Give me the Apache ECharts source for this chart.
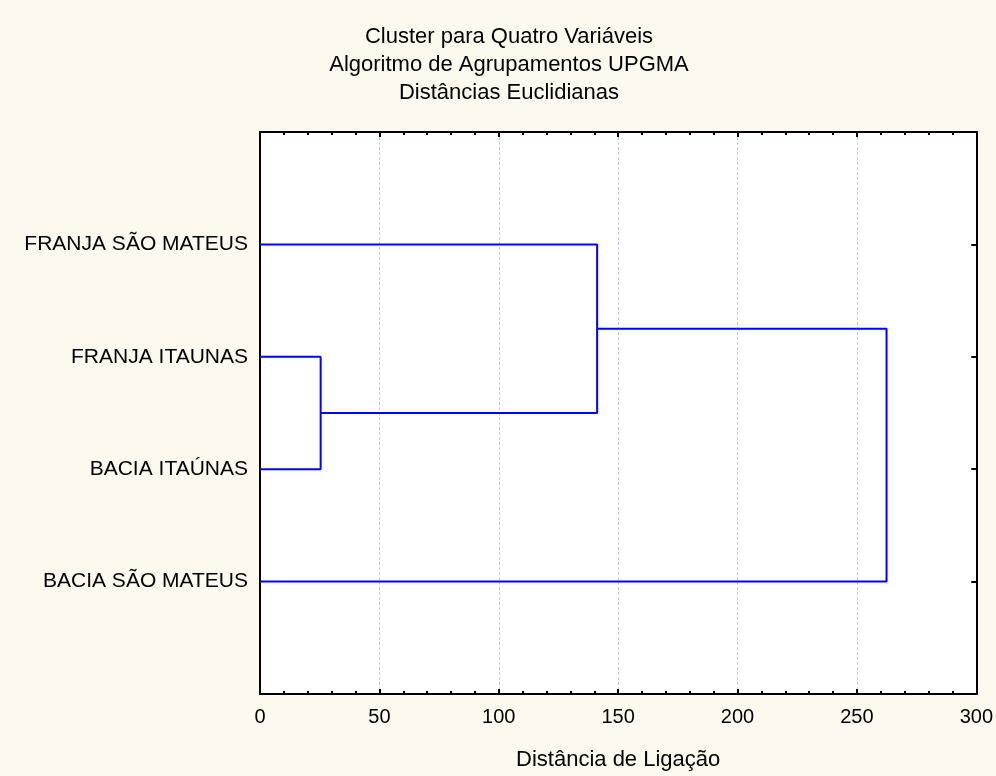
<!DOCTYPE html>
<html>
<head>
<meta charset="utf-8">
<script src="https://cdn.jsdelivr.net/npm/echarts@6/dist/echarts.min.js"></script>
<style>html,body{margin:0;padding:0;background:#fdf9ee;}#c{width:996px;height:776px;}</style>
</head>
<body>
<div id="c"></div>
<script>
// Leaves from top to bottom
var leafLabels = ['FRANJA SÃO MATEUS', 'FRANJA ITAUNAS', 'BACIA ITAÚNAS', 'BACIA SÃO MATEUS'];
// Linkage distances of the three merges (UPGMA)
var mergeDistances = [25.4, 141.2, 262.4];
var xTicks = [0, 50, 100, 150, 200, 250, 300];
var titleLines = ['Cluster para Quatro Variáveis', 'Algoritmo de Agrupamentos UPGMA', 'Distâncias Euclidianas'];
var xAxisName = 'Distância de Ligação';

// y position of leaves (bottom = 1)
var nLeaves = leafLabels.length;
function leafY(i) { return nLeaves - i; }
var yFSM = leafY(0), yFI = leafY(1), yBI = leafY(2), yBSM = leafY(3);
var d1 = mergeDistances[0], d2 = mergeDistances[1], d3 = mergeDistances[2];
var node1Y = (yFI + yBI) / 2;
var node2Y = (yFSM + node1Y) / 2;
var links = [
  [[0, yFI], [d1, yFI], [d1, yBI], [0, yBI]],
  [[0, yFSM], [d2, yFSM], [d2, node1Y], [d1, node1Y]],
  [[d2, node2Y], [d3, node2Y], [d3, yBSM], [0, yBSM]]
];

var chart = echarts.init(document.getElementById('c'));
var font = 'Liberation Sans, Arial, sans-serif';
function xAxisBase() {
  return {
    type: 'value', min: 0, max: xTicks[xTicks.length - 1], interval: xTicks[1] - xTicks[0],
    axisLine: { show: true, onZero: false, lineStyle: { color: '#000', width: 2 } },
    axisTick: { show: true, inside: true, length: 5, lineStyle: { color: '#000', width: 2 } },
    minorTick: { show: true, splitNumber: 5, length: 3, lineStyle: { color: '#000', width: 2 } }
  };
}
chart.setOption({
  backgroundColor: '#fdf9ee',
  animation: false,
  title: {
    text: titleLines.join('\n'),
    left: 504, top: 18, textAlign: 'center',
    textStyle: { fontFamily: font, fontSize: 22, fontWeight: 'normal', color: '#000', lineHeight: 28 }
  },
  grid: { left: 260, right: 19, top: 132, bottom: 82, show: true, backgroundColor: '#fff', borderWidth: 0 },
  xAxis: [
    Object.assign(xAxisBase(), {
      position: 'bottom',
      name: xAxisName, nameLocation: 'middle', nameGap: 55,
      nameTextStyle: { fontFamily: font, fontSize: 22, color: '#000' },
      axisLabel: { fontFamily: font, fontSize: 20, color: '#000', margin: 13 },
      splitLine: { show: true, lineStyle: { color: '#cccccc', type: [3, 2], width: 1 } }
    }),
    Object.assign(xAxisBase(), {
      position: 'top',
      axisLabel: { show: false },
      splitLine: { show: false }
    })
  ],
  yAxis: [
    {
      type: 'value', min: 0, max: nLeaves + 1, interval: 1, position: 'left',
      axisLine: { show: true, onZero: false, lineStyle: { color: '#000', width: 2 } },
      axisTick: { show: false },
      splitLine: { show: false },
      axisLabel: {
        fontFamily: font, fontSize: 21, color: '#000', margin: 12,
        formatter: function (v) { var i = nLeaves - v; return (i >= 0 && i < nLeaves) ? leafLabels[i] : ''; }
      }
    },
    {
      type: 'value', min: 0, max: nLeaves + 1, interval: 1, position: 'right',
      axisLine: { show: true, onZero: false, lineStyle: { color: '#000', width: 2 } },
      axisTick: { show: true, inside: true, length: 5, lineStyle: { color: '#000', width: 2 } },
      splitLine: { show: false },
      axisLabel: { show: false }
    }
  ],
  series: links.map(function (pts) {
    return {
      type: 'line', data: pts, xAxisIndex: 0, yAxisIndex: 0,
      showSymbol: false, symbol: 'none', silent: true,
      lineStyle: { color: '#0000ff', width: 2 }
    };
  })
});
</script>
</body>
</html>
